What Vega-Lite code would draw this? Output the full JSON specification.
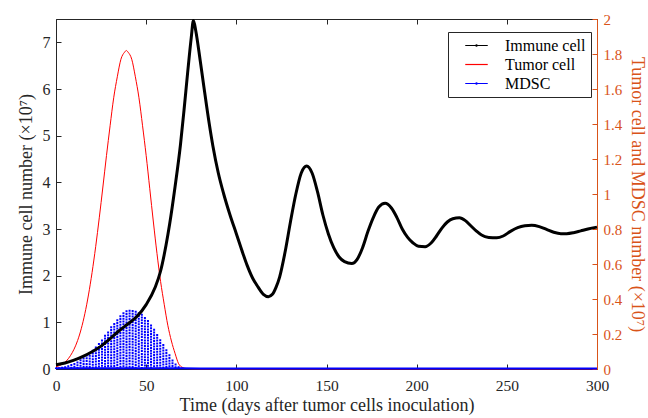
{
  "$schema": "https://vega.github.io/schema/vega-lite/v6.json",
  "width": 541,
  "height": 350,
  "autosize": {"type": "none"},
  "padding": {"left": 56, "top": 19, "right": 51, "bottom": 49},
  "background": "white",
  "config": {
    "view": {"stroke": "#262626", "strokeWidth": 1},
    "font": "Liberation Serif",
    "axis": {
      "labelFont": "Liberation Serif",
      "titleFont": "Liberation Serif",
      "labelFontSize": 16,
      "titleFontSize": 18,
      "titleFontWeight": "normal",
      "grid": false,
      "tickSize": -5,
      "labelFlush": false,
      "labelOverlap": false,
      "domainColor": "#262626",
      "tickColor": "#262626",
      "labelColor": "#262626",
      "titleColor": "#262626"
    },
    "legend": {"labelFont": "Liberation Serif", "labelFontSize": 16, "labelColor": "#000000"}
  },
  "datasets": {
    "immune": [
      {"t": 0, "v": 0.09, "series": "Immune cell"},
      {"t": 5, "v": 0.13, "series": "Immune cell"},
      {"t": 10, "v": 0.19, "series": "Immune cell"},
      {"t": 15, "v": 0.27, "series": "Immune cell"},
      {"t": 20, "v": 0.37, "series": "Immune cell"},
      {"t": 25, "v": 0.49, "series": "Immune cell"},
      {"t": 30, "v": 0.65, "series": "Immune cell"},
      {"t": 35, "v": 0.82, "series": "Immune cell"},
      {"t": 40, "v": 0.97, "series": "Immune cell"},
      {"t": 45, "v": 1.13, "series": "Immune cell"},
      {"t": 50, "v": 1.38, "series": "Immune cell"},
      {"t": 55, "v": 1.75, "series": "Immune cell"},
      {"t": 58, "v": 2.1, "series": "Immune cell"},
      {"t": 61, "v": 2.65, "series": "Immune cell"},
      {"t": 63, "v": 3.1, "series": "Immune cell"},
      {"t": 66, "v": 3.9, "series": "Immune cell"},
      {"t": 69, "v": 4.8, "series": "Immune cell"},
      {"t": 71, "v": 5.55, "series": "Immune cell"},
      {"t": 73, "v": 6.35, "series": "Immune cell"},
      {"t": 75, "v": 7.1, "series": "Immune cell"},
      {"t": 76.2, "v": 7.47, "series": "Immune cell"},
      {"t": 77.5, "v": 7.25, "series": "Immune cell"},
      {"t": 80, "v": 6.6, "series": "Immune cell"},
      {"t": 82, "v": 6.05, "series": "Immune cell"},
      {"t": 85, "v": 5.25, "series": "Immune cell"},
      {"t": 87, "v": 4.78, "series": "Immune cell"},
      {"t": 90, "v": 4.2, "series": "Immune cell"},
      {"t": 93, "v": 3.75, "series": "Immune cell"},
      {"t": 96.5, "v": 3.3, "series": "Immune cell"},
      {"t": 100, "v": 2.9, "series": "Immune cell"},
      {"t": 103, "v": 2.55, "series": "Immune cell"},
      {"t": 106, "v": 2.22, "series": "Immune cell"},
      {"t": 109, "v": 1.95, "series": "Immune cell"},
      {"t": 112, "v": 1.76, "series": "Immune cell"},
      {"t": 115, "v": 1.6, "series": "Immune cell"},
      {"t": 117.8, "v": 1.55, "series": "Immune cell"},
      {"t": 120, "v": 1.6, "series": "Immune cell"},
      {"t": 122, "v": 1.75, "series": "Immune cell"},
      {"t": 124, "v": 1.97, "series": "Immune cell"},
      {"t": 127, "v": 2.5, "series": "Immune cell"},
      {"t": 130, "v": 3.15, "series": "Immune cell"},
      {"t": 133, "v": 3.75, "series": "Immune cell"},
      {"t": 136, "v": 4.2, "series": "Immune cell"},
      {"t": 139, "v": 4.35, "series": "Immune cell"},
      {"t": 142, "v": 4.2, "series": "Immune cell"},
      {"t": 145, "v": 3.8, "series": "Immune cell"},
      {"t": 148, "v": 3.3, "series": "Immune cell"},
      {"t": 151, "v": 2.9, "series": "Immune cell"},
      {"t": 154, "v": 2.6, "series": "Immune cell"},
      {"t": 157, "v": 2.4, "series": "Immune cell"},
      {"t": 160, "v": 2.3, "series": "Immune cell"},
      {"t": 164, "v": 2.26, "series": "Immune cell"},
      {"t": 167, "v": 2.35, "series": "Immune cell"},
      {"t": 170, "v": 2.6, "series": "Immune cell"},
      {"t": 173, "v": 2.95, "series": "Immune cell"},
      {"t": 176, "v": 3.25, "series": "Immune cell"},
      {"t": 179, "v": 3.47, "series": "Immune cell"},
      {"t": 182.5, "v": 3.55, "series": "Immune cell"},
      {"t": 186, "v": 3.45, "series": "Immune cell"},
      {"t": 189, "v": 3.25, "series": "Immune cell"},
      {"t": 192, "v": 3.0, "series": "Immune cell"},
      {"t": 195, "v": 2.82, "series": "Immune cell"},
      {"t": 198, "v": 2.7, "series": "Immune cell"},
      {"t": 201, "v": 2.63, "series": "Immune cell"},
      {"t": 204.7, "v": 2.62, "series": "Immune cell"},
      {"t": 208, "v": 2.7, "series": "Immune cell"},
      {"t": 211, "v": 2.85, "series": "Immune cell"},
      {"t": 214, "v": 3.02, "series": "Immune cell"},
      {"t": 217, "v": 3.15, "series": "Immune cell"},
      {"t": 220, "v": 3.22, "series": "Immune cell"},
      {"t": 223.7, "v": 3.24, "series": "Immune cell"},
      {"t": 227, "v": 3.18, "series": "Immune cell"},
      {"t": 230, "v": 3.07, "series": "Immune cell"},
      {"t": 233, "v": 2.96, "series": "Immune cell"},
      {"t": 236, "v": 2.87, "series": "Immune cell"},
      {"t": 240, "v": 2.82, "series": "Immune cell"},
      {"t": 244.4, "v": 2.81, "series": "Immune cell"},
      {"t": 248, "v": 2.85, "series": "Immune cell"},
      {"t": 252, "v": 2.95, "series": "Immune cell"},
      {"t": 256, "v": 3.03, "series": "Immune cell"},
      {"t": 260, "v": 3.07, "series": "Immune cell"},
      {"t": 263.8, "v": 3.08, "series": "Immune cell"},
      {"t": 268, "v": 3.05, "series": "Immune cell"},
      {"t": 272, "v": 2.99, "series": "Immune cell"},
      {"t": 276, "v": 2.93, "series": "Immune cell"},
      {"t": 280, "v": 2.9, "series": "Immune cell"},
      {"t": 283.2, "v": 2.9, "series": "Immune cell"},
      {"t": 287, "v": 2.92, "series": "Immune cell"},
      {"t": 291, "v": 2.96, "series": "Immune cell"},
      {"t": 295, "v": 3.0, "series": "Immune cell"},
      {"t": 300, "v": 3.04, "series": "Immune cell"}
    ],
    "tumor": [
      {"t": 0, "v": 0.012, "series": "Tumor cell"},
      {"t": 2, "v": 0.02, "series": "Tumor cell"},
      {"t": 4, "v": 0.031, "series": "Tumor cell"},
      {"t": 6, "v": 0.049, "series": "Tumor cell"},
      {"t": 8, "v": 0.076, "series": "Tumor cell"},
      {"t": 10, "v": 0.113, "series": "Tumor cell"},
      {"t": 12, "v": 0.163, "series": "Tumor cell"},
      {"t": 14, "v": 0.23, "series": "Tumor cell"},
      {"t": 16, "v": 0.316, "series": "Tumor cell"},
      {"t": 18, "v": 0.423, "series": "Tumor cell"},
      {"t": 20, "v": 0.551, "series": "Tumor cell"},
      {"t": 22, "v": 0.699, "series": "Tumor cell"},
      {"t": 24, "v": 0.864, "series": "Tumor cell"},
      {"t": 26, "v": 1.04, "series": "Tumor cell"},
      {"t": 28, "v": 1.22, "series": "Tumor cell"},
      {"t": 30, "v": 1.39, "series": "Tumor cell"},
      {"t": 32, "v": 1.55, "series": "Tumor cell"},
      {"t": 34, "v": 1.67, "series": "Tumor cell"},
      {"t": 36, "v": 1.77, "series": "Tumor cell"},
      {"t": 38, "v": 1.81, "series": "Tumor cell"},
      {"t": 39, "v": 1.82, "series": "Tumor cell"},
      {"t": 40, "v": 1.81, "series": "Tumor cell"},
      {"t": 42, "v": 1.77, "series": "Tumor cell"},
      {"t": 44, "v": 1.67, "series": "Tumor cell"},
      {"t": 46, "v": 1.55, "series": "Tumor cell"},
      {"t": 48, "v": 1.39, "series": "Tumor cell"},
      {"t": 50, "v": 1.22, "series": "Tumor cell"},
      {"t": 52, "v": 1.03, "series": "Tumor cell"},
      {"t": 54, "v": 0.84, "series": "Tumor cell"},
      {"t": 56, "v": 0.66, "series": "Tumor cell"},
      {"t": 58, "v": 0.5, "series": "Tumor cell"},
      {"t": 60, "v": 0.37, "series": "Tumor cell"},
      {"t": 62, "v": 0.25, "series": "Tumor cell"},
      {"t": 64, "v": 0.16, "series": "Tumor cell"},
      {"t": 66, "v": 0.09, "series": "Tumor cell"},
      {"t": 68, "v": 0.03, "series": "Tumor cell"},
      {"t": 70, "v": 0.01, "series": "Tumor cell"},
      {"t": 72, "v": 0.003, "series": "Tumor cell"},
      {"t": 76, "v": 0.001, "series": "Tumor cell"},
      {"t": 85, "v": 0, "series": "Tumor cell"},
      {"t": 300, "v": 0, "series": "Tumor cell"}
    ],
    "mdsc": [
      {"t": 0, "hi": 0.008, "series": "MDSC"},
      {"t": 1.7, "hi": 0.01, "series": "MDSC"},
      {"t": 3.4, "hi": 0.013, "series": "MDSC"},
      {"t": 5.1, "hi": 0.016, "series": "MDSC"},
      {"t": 6.8, "hi": 0.022, "series": "MDSC"},
      {"t": 8.5, "hi": 0.029, "series": "MDSC"},
      {"t": 10.2, "hi": 0.035, "series": "MDSC"},
      {"t": 11.9, "hi": 0.043, "series": "MDSC"},
      {"t": 13.6, "hi": 0.056, "series": "MDSC"},
      {"t": 15.3, "hi": 0.066, "series": "MDSC"},
      {"t": 17, "hi": 0.083, "series": "MDSC"},
      {"t": 18.7, "hi": 0.097, "series": "MDSC"},
      {"t": 20.4, "hi": 0.11, "series": "MDSC"},
      {"t": 22.1, "hi": 0.128, "series": "MDSC"},
      {"t": 23.8, "hi": 0.148, "series": "MDSC"},
      {"t": 25.5, "hi": 0.168, "series": "MDSC"},
      {"t": 27.2, "hi": 0.196, "series": "MDSC"},
      {"t": 28.9, "hi": 0.215, "series": "MDSC"},
      {"t": 30.6, "hi": 0.245, "series": "MDSC"},
      {"t": 32.3, "hi": 0.263, "series": "MDSC"},
      {"t": 34, "hi": 0.285, "series": "MDSC"},
      {"t": 35.7, "hi": 0.307, "series": "MDSC"},
      {"t": 37.4, "hi": 0.325, "series": "MDSC"},
      {"t": 39.1, "hi": 0.336, "series": "MDSC"},
      {"t": 40.8, "hi": 0.339, "series": "MDSC"},
      {"t": 42.5, "hi": 0.337, "series": "MDSC"},
      {"t": 44.2, "hi": 0.333, "series": "MDSC"},
      {"t": 45.9, "hi": 0.325, "series": "MDSC"},
      {"t": 47.6, "hi": 0.316, "series": "MDSC"},
      {"t": 49.3, "hi": 0.297, "series": "MDSC"},
      {"t": 51, "hi": 0.28, "series": "MDSC"},
      {"t": 52.7, "hi": 0.254, "series": "MDSC"},
      {"t": 54.4, "hi": 0.23, "series": "MDSC"},
      {"t": 56.1, "hi": 0.2, "series": "MDSC"},
      {"t": 57.8, "hi": 0.17, "series": "MDSC"},
      {"t": 59.5, "hi": 0.143, "series": "MDSC"},
      {"t": 61.2, "hi": 0.113, "series": "MDSC"},
      {"t": 62.9, "hi": 0.085, "series": "MDSC"},
      {"t": 64.6, "hi": 0.055, "series": "MDSC"},
      {"t": 66.3, "hi": 0.032, "series": "MDSC"},
      {"t": 68, "hi": 0.016, "series": "MDSC"},
      {"t": 69.7, "hi": 0.009, "series": "MDSC"},
      {"t": 71.4, "hi": 0.005, "series": "MDSC"}
    ],
    "mdscBase": [
      {"t": 0, "v": 0.004, "series": "MDSC"},
      {"t": 70, "v": 0.004, "series": "MDSC"},
      {"t": 80, "v": 0.003, "series": "MDSC"},
      {"t": 300, "v": 0.003, "series": "MDSC"}
    ]
  },
  "layer": [
    {
      "layer": [
        {
          "data": {"name": "tumor"},
          "mark": {"type": "line", "strokeWidth": 1, "interpolate": "monotone"},
          "encoding": {
            "x": {
              "field": "t", "type": "quantitative",
              "scale": {"domain": [0, 300], "nice": false},
              "axis": {"orient": "top", "values": [0, 50, 100, 150, 200, 250, 300], "labels": false, "title": null, "domain": false}
            },
            "y": {
              "field": "v", "type": "quantitative",
              "scale": {"domain": [0, 2], "nice": false},
              "axis": {"orient": "right", "values": [0, 0.2, 0.4, 0.6, 0.8, 1, 1.2, 1.4, 1.6, 1.8, 2], "format": "~g", "labelOverlap": false, "labelFontSize": 15, "title": "Tumor cell and MDSC number (×10⁷)", "domainColor": "#D95319", "tickColor": "#D95319", "labelColor": "#D95319", "titleColor": "#D95319", "labelPadding": 11, "titlePadding": 6}
            },
            "color": {"field": "series", "type": "nominal"}
          }
        },
        {
          "data": {"name": "mdsc"},
          "mark": {"type": "rule", "strokeWidth": 2, "strokeDash": [2, 0.8]},
          "encoding": {
            "x": {
              "field": "t", "type": "quantitative",
              "scale": {"domain": [0, 300], "nice": false},
              "axis": {"orient": "top", "values": [0, 50, 100, 150, 200, 250, 300], "labels": false, "title": null, "domain": false}
            },
            "y": {
              "field": "hi", "type": "quantitative",
              "scale": {"domain": [0, 2], "nice": false},
              "axis": {"orient": "right", "values": [0, 0.2, 0.4, 0.6, 0.8, 1, 1.2, 1.4, 1.6, 1.8, 2], "format": "~g", "labelOverlap": false, "labelFontSize": 15, "title": "Tumor cell and MDSC number (×10⁷)", "domainColor": "#D95319", "tickColor": "#D95319", "labelColor": "#D95319", "titleColor": "#D95319", "labelPadding": 11, "titlePadding": 6}
            },
            "y2": {"datum": 0},
            "color": {"field": "series", "type": "nominal"}
          }
        },
        {
          "data": {"name": "mdscBase"},
          "mark": {"type": "line", "strokeWidth": 2},
          "encoding": {
            "x": {
              "field": "t", "type": "quantitative",
              "scale": {"domain": [0, 300], "nice": false},
              "axis": {"orient": "top", "values": [0, 50, 100, 150, 200, 250, 300], "labels": false, "title": null, "domain": false}
            },
            "y": {
              "field": "v", "type": "quantitative",
              "scale": {"domain": [0, 2], "nice": false},
              "axis": {"orient": "right", "values": [0, 0.2, 0.4, 0.6, 0.8, 1, 1.2, 1.4, 1.6, 1.8, 2], "format": "~g", "labelOverlap": false, "labelFontSize": 15, "title": "Tumor cell and MDSC number (×10⁷)", "domainColor": "#D95319", "tickColor": "#D95319", "labelColor": "#D95319", "titleColor": "#D95319", "labelPadding": 11, "titlePadding": 6}
            },
            "color": {"field": "series", "type": "nominal"}
          }
        }
      ]
    },
    {
      "data": {"name": "immune"},
      "mark": {"type": "line", "strokeWidth": 3, "interpolate": "monotone"},
      "encoding": {
        "x": {
          "field": "t", "type": "quantitative",
          "scale": {"domain": [0, 300], "nice": false},
          "axis": {"orient": "bottom", "values": [0, 50, 100, 150, 200, 250, 300], "labelFontSize": 15.5, "title": "Time (days after tumor cells inoculation)", "labelPadding": 14, "titlePadding": 3}
        },
        "y": {
          "field": "v", "type": "quantitative",
          "scale": {"domain": [0, 7.5], "nice": false},
          "axis": {"orient": "left", "values": [0, 1, 2, 3, 4, 5, 6, 7], "title": "Immune cell number (×10⁷)", "labelPadding": 11, "titlePadding": 7}
        },
        "color": {
          "field": "series", "type": "nominal",
          "scale": {"domain": ["Immune cell", "Tumor cell", "MDSC"], "range": ["#000000", "#FF0000", "#0000FF"]},
          "legend": {
            "orient": "none", "legendX": 392, "legendY": 13, "title": null,
            "strokeColor": "#262626", "fillColor": "white", "padding": 5,
            "symbolType": "M-1.5,0H1.5", "symbolSize": 225, "symbolStrokeWidth": 1.2, "symbolOffset": 15,
            "labelFont": "Liberation Serif", "labelFontSize": 16, "labelColor": "#000000",
            "rowPadding": 2, "labelOffset": 20,
            "encode": {
              "symbols": {
                "update": {
                  "shape": {"signal": "datum.value === 'Tumor cell' ? 'M-1.5,0H1.5' : 'M-1.5,0H1.5M-0.08,0A0.08,0.08 0 1,1 0.08,0A0.08,0.08 0 1,1 -0.08,0'"}
                }
              }
            }
          }
        }
      }
    }
  ],
  "resolve": {"scale": {"y": "independent"}, "axis": {"x": "independent"}}
}
